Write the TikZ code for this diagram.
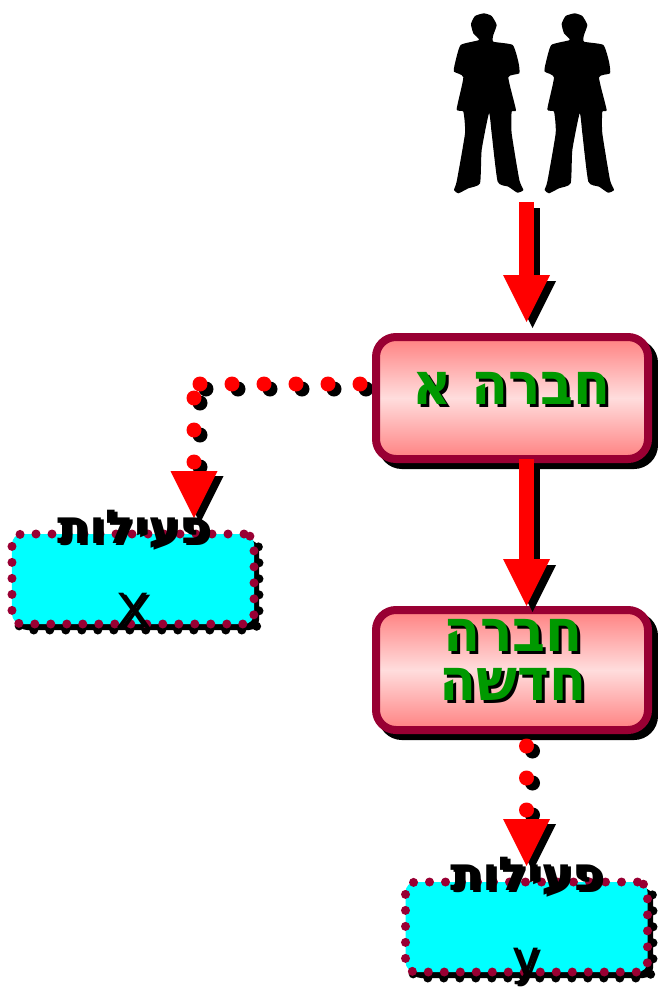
\documentclass[tikz,border=0pt]{standalone}
\usepackage{fontspec}
\usetikzlibrary{arrows.meta}
\setmainfont{Liberation Sans}
\newfontfamily\hebfont[Script=Hebrew]{DejaVu Sans}
\newfontfamily\hebtall[Script=Hebrew,FakeStretch=0.92]{DejaVu Sans}
\TeXXeTstate=1
\definecolor{boxedge}{HTML}{990033}
\definecolor{boxred}{HTML}{FF8080}
\definecolor{boxpale}{HTML}{FFDDDD}
\definecolor{labelgreen}{HTML}{009900}
\definecolor{activityfill}{HTML}{00FFFF}
\tikzset{
  person/.pic={
    \fill[x=0.3333bp,y=-0.3333bp] plot[smooth cycle,tension=0.3] coordinates {
      (147,120) (92,135) (75,190) (72,215) (100,232) (80,328) (100,335) (105,400)
      (80,545) (72,570) (85,580) (115,565) (150,550) (155,450) (177,340) (185,400)
      (203,545) (235,560) (262,578) (280,570) (268,540) (245,400) (245,335) (258,330)
      (235,232) (268,220) (265,185) (248,135) (190,125) (190,105) (200,75) (185,48)
      (162,40) (135,48) (123,72) (130,100)};
  },
  offset/.style={transform canvas={shift={(6bp,-6bp)}}},
  dotoffset/.style={transform canvas={shift={(6bp,-5bp)}}},
  flowarrow/.style={draw=#1,line width=15bp,-{Triangle[length=47bp,width=47bp,line width=0pt,fill=#1]}},
  dotarrow/.style={draw=#1,line width=15bp,line cap=round,dash pattern=on 0pt off 32bp,-{Triangle[length=47bp,width=47bp,line width=0pt,fill=#1]}},
  dotline/.style={draw=#1,line width=15bp,line cap=round,dash pattern=on 0pt off 32bp},
  companybox/.style={rounded corners=20bp,draw=boxedge,line width=8bp,top color=boxred,bottom color=boxred,middle color=boxpale,minimum width=272bp,inner sep=0pt},
  companyshadow/.style={rounded corners=20bp,draw=black,fill=black,line width=8bp,minimum width=272bp,inner sep=0pt},
  companylabel/.style={text=#1,align=center,font=\hebtall\bfseries\fontsize{59}{49}\selectfont,inner sep=0pt},
  activitybox/.style={rounded corners=10bp,fill=activityfill,draw=boxedge,line width=9bp,line cap=round,dash pattern=on 0pt off 16bp,minimum width=242bp,minimum height=90bp,inner sep=0pt},
  activityback/.style={rounded corners=10bp,fill=black,draw=black,line width=9bp,line cap=round,dash pattern=on 0pt off 16bp,dash phase=6bp,minimum width=242bp,minimum height=90bp,inner sep=0pt},
  activitylabel/.style={text=black,font=\hebfont\bfseries\fontsize{47}{47}\selectfont,inner sep=0pt},
  letterlabel/.style={text=black,font=\fontsize{50}{50}\selectfont,inner sep=0pt},
}
\begin{document}
\begin{tikzpicture}[x=1bp,y=-1bp]
  \useasboundingbox (0,0) rectangle (658,987);
  % people
  \pic at (430,0) {person};
  \pic at (520.67,0) {person};
  % named points on the connectors
  \coordinate (peoplefoot) at (526.5,202);
  \coordinate (atip) at (526.5,322);
  \coordinate (aout) at (526.5,459);
  \coordinate (btip) at (526.5,606);
  \coordinate (bout) at (526.5,746);
  \coordinate (ytip) at (526.5,866);
  \coordinate (aleft) at (360,384);
  \coordinate (bend) at (194,384);
  \coordinate (bendlow) at (194,398);
  \coordinate (xtip) at (194,518);
  % activity boxes
  \node[activityback] (activityxback) at (138,585) {};
  \node[activityback] (activityyback) at (532,933) {};
  \node[activitybox] (activityx) at (133,579) {};
  \node[activitybox] (activityy) at (526.5,927) {};
  % company b, then the arrow shadows that fall on it
  \node[companyshadow,minimum height=120bp] (companybback) at (518,676) {};
  \node[companybox,minimum height=120bp] (companyb) at (512,670) {};
  \draw[flowarrow=black,offset] (peoplefoot) -- (atip);
  \draw[flowarrow=black,offset] (aout) -- (btip);
  \draw[dotline=black,dotoffset] (aleft) -- (bend);
  \draw[dotarrow=black,dotoffset] (bendlow) -- (xtip);
  \draw[dotarrow=black,dotoffset] (bout) -- (ytip);
  % company a
  \node[companyshadow,minimum height=122bp] (companyaback) at (518,404) {};
  \node[companybox,minimum height=122bp] (companya) at (512,398) {};
  % arrows
  \draw[flowarrow=red] (peoplefoot) -- (atip);
  \draw[flowarrow=red] (aout) -- (btip);
  \draw[dotline=red] (aleft) -- (bend);
  \draw[dotarrow=red] (bendlow) -- (xtip);
  \draw[dotarrow=red] (bout) -- (ytip);
  % labels
  \node[companylabel=black] (labelashadow) at (515,391) {\beginR חברה א\endR};
  \node[companylabel=labelgreen] (labela) at (512,388) {\beginR חברה א\endR};
  \node[companylabel=black] (labelbshadow) at (516,663) {\beginR חברה\endR\\\beginR חדשה\endR};
  \node[companylabel=labelgreen] (labelb) at (513,660) {\beginR חברה\endR\\\beginR חדשה\endR};
  \node[activitylabel] (labelxshadow) at (137,531) {\beginR פעילות\endR};
  \node[activitylabel] (labelx) at (134,529) {\beginR פעילות\endR};
  \node[activitylabel] (labelyshadow) at (530,878) {\beginR פעילות\endR};
  \node[activitylabel] (labely) at (527,876) {\beginR פעילות\endR};
  \node[letterlabel] (letterxshadow) at (136,612) {X};
  \node[letterlabel] (letterx) at (133,610) {X};
  \node[letterlabel] (letteryshadow) at (529,968) {y};
  \node[letterlabel] (lettery) at (526,966) {y};
\end{tikzpicture}
\end{document}
